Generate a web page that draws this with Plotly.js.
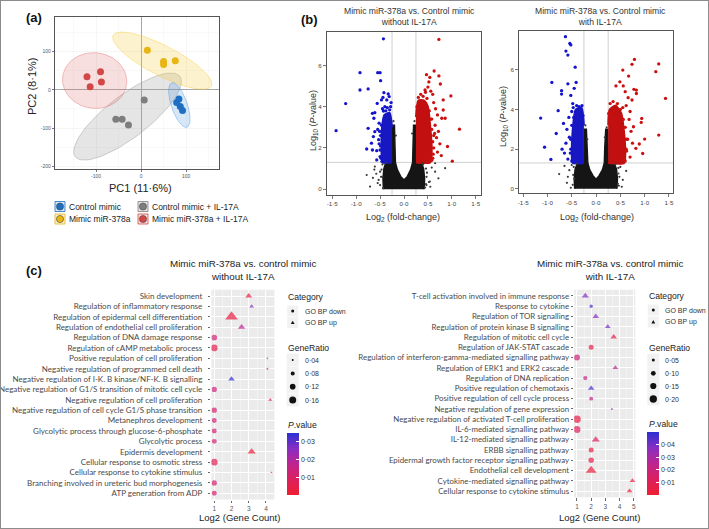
<!DOCTYPE html>
<html><head><meta charset="utf-8">
<script src="https://cdn.plot.ly/plotly-3.0.1.min.js"></script>
<style>html,body{margin:0;padding:0;background:#fff;}#chart{width:709px;height:529px;}</style>
</head><body><div id="chart"></div>
<script>
const W = 709, H = 529;
const px = x => x / W, py = y => 1 - y / H;
const SANS = 'Liberation Sans, Arial, sans-serif';
const HUM = 'Lato, Open Sans, sans-serif';

// ===== (a) PCA =====
const pcaGroups = ['Control mimic', 'Mimic miR-378a', 'Control mimic + IL-17A', 'Mimic miR-378a + IL-17A'];
const pcaColors = ['#1E6FC4', '#E8B514', '#7E7E7E', '#D24848'];
const pcaFills = ['rgba(70,150,225,0.22)', 'rgba(245,205,60,0.25)', 'rgba(150,150,150,0.25)', 'rgba(225,110,110,0.22)'];
const pc1Control = [84, 79, 87, 92];
const pc2Control = [-24, -33, -44, -54];
const pc1Mimic = [14, 50, 50, 76];
const pc2Mimic = [103, 74, 66, 76];
const pc1ControlIL = [7, -56, -42, -28];
const pc2ControlIL = [-27, -77, -77, -92];
const pc1MimicIL = [-120, -90, -88, -113];
const pc2MimicIL = [34, 47, 20, 8];
// confidence ellipses: centre and two conjugate semi-axis vectors (data units)
const ellCX = [85, 47, -30, -103];
const ellCY = [-40, 76, -70, 24];
const ellUX = [-17, 109, 116, 69];
const ellUY = [58, -66, 105, 16];
const ellVX = [16.7, -15, 28.5, 18];
const ellVY = [6.9, -35, -43.7, -71];

// ===== (b) volcano plots =====
const fcCut = 0.25, pCut = 1.301;
const volTicks = [-1.5, -1, -0.5, 0, 0.5, 1, 1.5];
const volTickText = ['-1·5', '-1·0', '-0·5', '0·0', '0·5', '1·0', '1·5'];
// left: without IL-17A
const vLBlueX = [-0.43,-0.92,-0.55,-0.50,-0.49,-0.92,-0.75,-1.22,-1.42,-0.42,-0.33,-0.31,-0.36,-0.47,-0.27,-0.56,-0.61,-0.75,-0.64,-0.78,-0.66,-0.57,-0.57,-0.50,-0.68,-0.43,-0.38,-0.66,-0.63,-0.61,-0.52,-0.55,-0.49,-0.53,
  -0.48,-0.50,-0.49,-0.47,-0.45,-0.40,-0.35,-0.30,-0.28,-0.52,-0.46,-0.51,-0.44];
const vLBlueY = [7.29,5.65,5.65,5.65,5.26,4.81,4.86,4.15,2.84,4.68,4.62,4.49,4.33,4.33,4.20,4.16,3.71,2.95,2.55,1.95,1.90,1.87,1.42,1.58,2.23,3.79,3.80,3.68,3.44,2.79,3.20,2.90,2.10,2.40,
  1.50,1.90,2.60,3.10,3.90,4.00,3.95,3.85,4.00,2.20,1.35,2.80,4.45];
const vLRedX = [0.73,0.63,0.47,0.54,0.73,0.76,0.52,0.44,0.98,0.82,0.82,0.86,0.79,1.16,0.91,1.01,0.78,0.50,0.56,0.60,0.62,0.66,0.70,0.65,0.72,0.68,0.75,0.62,0.70,0.60,0.58,0.64,
  0.58,0.61,0.60,0.58,0.56,0.53,0.48,0.40,0.35,0.30,0.27,0.45,0.62];
const vLRedY = [7.26,5.73,5.55,5.42,5.49,5.10,5.20,4.81,4.52,4.33,3.84,3.44,3.44,2.91,2.07,1.36,1.63,4.95,4.75,4.60,4.20,3.90,3.60,3.10,2.80,2.50,2.20,2.00,1.80,1.50,3.40,2.70,
  1.40,1.70,2.30,2.90,3.40,3.80,4.40,4.50,4.60,4.45,4.00,4.70,2.60];
const vLGreyX = [-0.78,-0.65,-0.71,0.65,0.65,0.86,0.72,0.54,-0.61,-0.55,0.48,-0.50,0.46,-0.45,0.58,-0.62,
  -0.50,-0.48,-0.47,-0.45,0.47,0.47,0.46,0.40,-0.17,0.17,-0.22,0.22,-0.53,0.52,-0.38,0.38,-0.58,0.55,-0.44,0.44];
const vLGreyY = [0.69,0.55,0.13,1.26,0.85,1.02,0.53,0.37,1.10,0.30,0.80,0.85,0.25,0.60,1.05,0.95,
  0.20,0.60,0.95,1.20,0.20,0.60,1.00,1.20,2.60,2.70,3.30,3.30,0.45,0.35,1.28,1.25,0.75,0.12,0.05,0.08];
const vLCoreBlackX = [-0.43,-0.44,-0.42,-0.38,-0.25,-0.25,-0.24,-0.20,-0.19,-0.18,-0.14,-0.07,0.00,0.07,0.14,0.18,0.19,0.20,0.24,0.25,0.25,0.36,0.41,0.43,0.42];
const vLCoreBlackY = [0.00,0.50,1.00,1.30,1.30,2.20,3.10,3.10,2.20,1.30,0.95,0.62,0.45,0.62,0.95,1.30,2.20,3.10,3.10,2.20,1.30,1.30,1.00,0.50,0.00];
const vLCoreBlueX = [-0.25,-0.45,-0.47,-0.46,-0.41,-0.30,-0.25];
const vLCoreBlueY = [1.30,1.30,2.00,3.00,3.60,3.70,3.00];
const vLCoreRedX = [0.25,0.55,0.58,0.55,0.50,0.42,0.30,0.25];
const vLCoreRedY = [1.30,1.30,2.00,3.00,4.00,4.30,4.30,3.50];
// right: with IL-17A
const vRBlueX = [-0.63,-0.54,-0.52,-0.62,-0.58,-0.43,-0.91,-0.58,-0.41,-0.71,-0.71,-0.45,-0.52,-0.78,-1.14,-0.82,-1.06,-0.93,-0.67,-0.60,-0.55,-0.62,-0.52,-0.65,-0.56,-0.48,-0.50,-0.58,-0.70,
  -0.50,-0.53,-0.52,-0.50,-0.46,-0.40,-0.35,-0.29,-0.27,-0.47];
const vRBlueY = [7.68,7.34,7.26,6.95,6.75,6.14,5.37,5.30,5.37,4.95,4.78,5.07,4.71,3.94,3.57,2.79,2.10,1.48,3.30,3.00,2.60,2.30,2.00,1.80,3.60,4.30,3.90,1.50,2.00,
  1.40,1.80,2.50,3.20,3.60,4.20,4.15,4.20,3.70,4.10];
const vRRedX = [0.79,0.74,0.55,0.67,1.29,1.23,1.43,1.29,0.49,0.56,0.41,0.78,0.83,0.83,0.74,0.94,0.93,1.00,0.89,0.82,0.96,0.77,0.60,0.66,0.62,0.70,0.68,0.72,0.65,0.75,0.62,0.70,0.58,
  0.60,0.63,0.62,0.60,0.56,0.50,0.44,0.35,0.29,0.26,0.55];
const vRRedY = [6.53,6.28,5.99,5.69,6.30,5.91,4.56,2.71,5.40,5.19,5.19,5.02,4.98,4.81,4.48,3.55,3.35,2.51,2.26,2.04,1.78,3.13,4.90,4.60,4.20,3.90,3.50,2.90,2.50,2.30,2.00,1.60,1.50,
  1.40,1.90,2.50,3.10,3.50,4.00,4.30,4.40,4.30,3.80,4.10];
const vRGreyX = [-0.76,-0.55,-0.45,0.46,-0.60,0.55,0.50,-0.65,0.62,-0.50,0.45,-0.58,
  -0.48,-0.47,-0.46,0.47,0.48,0.46,-0.18,0.18,-0.22,0.22,-0.40,0.40,-0.52,0.53];
const vRGreyY = [0.74,0.94,0.50,0.77,0.30,0.45,1.10,1.15,0.90,1.20,0.25,0.60,
  0.20,0.70,1.10,0.15,0.60,1.05,2.50,2.60,3.20,3.10,1.27,1.25,0.05,0.10];
const vRCoreBlackX = [-0.44,-0.45,-0.43,-0.38,-0.25,-0.25,-0.24,-0.20,-0.18,-0.17,-0.13,-0.06,0.00,0.06,0.13,0.17,0.18,0.20,0.24,0.25,0.25,0.37,0.42,0.44,0.43];
const vRCoreBlackY = [0.00,0.50,1.00,1.30,1.30,2.20,3.00,3.00,2.10,1.30,0.95,0.65,0.48,0.65,0.95,1.30,2.10,3.00,3.00,2.20,1.30,1.30,1.00,0.50,0.00];
const vRCoreBlueX = [-0.25,-0.48,-0.50,-0.48,-0.42,-0.30,-0.25];
const vRCoreBlueY = [1.30,1.30,2.00,3.00,4.00,4.10,3.20];
const vRCoreRedX = [0.25,0.58,0.60,0.57,0.52,0.40,0.28,0.25];
const vRCoreRedY = [1.30,1.30,2.00,3.00,3.80,4.20,4.00,3.20];

// ===== (c) GO dot plots =====
const dotLTerms = ['Skin development','Regulation of inflammatory response','Regulation of epidermal cell differentiation','Regulation of endothelial cell proliferation','Regulation of DNA damage response','Regulation of cAMP metabolic process','Positive regulation of cell proliferation','Negative regulation of programmed cell death','Negative regulation of I-K. B kinase/NF-K. B signalling','Negative regulation of G1/S transition of mitotic cell cycle','Negative regulation of cell proliferation','Negative regulation of cell cycle G1/S phase transition','Metanephros development','Glycolytic process through glucose-6-phosphate','Glycolytic process','Epidermis development','Cellular response to osmotic stress','Cellular response to cytokine stimulus','Branching involved in ureteric bud morphogenesis','ATP generation from ADP'];
const dotLCount = [8,9,4,6,2,2,17,17,4,2,19,2,2,2,2,9,2,20,2,2];
const dotLRatio = [0.108,0.072,0.246,0.118,0.121,0.151,0.035,0.040,0.102,0.110,0.058,0.110,0.102,0.102,0.102,0.133,0.151,0.038,0.110,0.102];
const dotLP = [0.003,0.026,0.004,0.018,0.013,0.006,0.020,0.015,0.034,0.014,0.005,0.012,0.013,0.013,0.013,0.003,0.007,0.008,0.012,0.012];
const dotLCat = ['up','up','up','up','down','down','down','down','up','down','up','down','down','down','down','up','down','up','down','down'];
const dotRTerms = ['T-cell activation involved in immune response','Response to cytokine','Regulation of TOR signalling','Regulation of protein kinase B signalling','Regulation of mitotic cell cycle','Regulation of JAK-STAT cascade','Regulation of interferon-gamma-mediated signalling pathway','Regulation of ERK1 and ERK2 cascade','Regulation of DNA replication','Positive regulation of chemotaxis','Positive regulation of cell cycle process','Negative regulation of gene expression','Negative regulation of activated T-cell proliferation','IL-6-mediated signalling pathway','IL-12-mediated signalling pathway','ERBB signalling pathway','Epidermal growth factor receptor signalling pathway','Endothelial cell development','Cytokine-mediated signalling pathway','Cellular response to cytokine stimulus'];
const dotRCount = [3,4,5,9,12,4,2,13,3,4,4,11,2,2,5,4,4,4,30,26];
const dotRRatio = [0.120,0.057,0.107,0.087,0.107,0.107,0.143,0.087,0.084,0.107,0.075,0.029,0.208,0.185,0.147,0.107,0.124,0.237,0.087,0.087];
const dotRP = [0.038,0.046,0.037,0.040,0.008,0.007,0.020,0.025,0.022,0.047,0.022,0.035,0.006,0.012,0.012,0.006,0.007,0.004,0.003,0.003];
const dotRCat = ['up','down','up','up','up','down','down','up','down','up','down','down','down','down','up','down','down','up','up','up'];
const legLRatioBreaks = [0.04, 0.08, 0.12, 0.16];
const legRRatioBreaks = [0.05, 0.10, 0.15, 0.20];
const legLPBreaks = [0.01, 0.02, 0.03];
const legRPBreaks = [0.01, 0.02, 0.03, 0.04];

const pScale = [[0,'#F01E30'],[0.25,'#DC1F5E'],[0.5,'#BE2590'],[0.75,'#882EC2'],[1,'#2A30D2']];
const dot = s => s.toFixed(2).replace('.', '·');

// ---------- traces ----------
const traces = [];
function ellipse(i) {
  const xs = [], ys = [];
  for (let k = 0; k <= 90; k++) {
    const t = 2 * Math.PI * k / 90;
    xs.push(ellCX[i] + ellUX[i] * Math.cos(t) + ellVX[i] * Math.sin(t));
    ys.push(ellCY[i] + ellUY[i] * Math.cos(t) + ellVY[i] * Math.sin(t));
  }
  return [xs, ys];
}
[2, 3, 1, 0].forEach(i => {
  const [xs, ys] = ellipse(i);
  traces.push({x: xs, y: ys, xaxis: 'x', yaxis: 'y', mode: 'lines', fill: 'toself',
    fillcolor: pcaFills[i], line: {color: pcaFills[i].replace(/0\.2\d\)/, '0.55)'), width: 0.8}, showlegend: false, hoverinfo: 'skip'});
});
const pcaX = [pc1Control, pc1Mimic, pc1ControlIL, pc1MimicIL];
const pcaY = [pc2Control, pc2Mimic, pc2ControlIL, pc2MimicIL];
pcaX.forEach((xs, i) => traces.push({x: xs, y: pcaY[i], xaxis: 'x', yaxis: 'y', mode: 'markers',
  marker: {size: 7, color: pcaColors[i]}, showlegend: false}));

function volTraces(ax, ay, coreBX, coreBY, coreBlX, coreBlY, coreRX, coreRY, gx, gy, bx, by, rx, ry) {
  const poly = (x, y, c, sm) => ({x, y, xaxis: ax, yaxis: ay, mode: 'lines', fill: 'toself', fillcolor: c,
    line: sm ? {color: c, width: 2, shape: 'spline', smoothing: 0.6} : {color: c, width: 1.5}, showlegend: false, hoverinfo: 'skip'});
  traces.push(poly(coreBX, coreBY, '#151515', false));
  traces.push(poly(coreBlX, coreBlY, '#1818C2', true));
  traces.push(poly(coreRX, coreRY, '#C21010', true));
  traces.push({x: gx, y: gy, xaxis: ax, yaxis: ay, mode: 'markers', marker: {size: 2.2, color: '#3A3A3A'}, showlegend: false});
  traces.push({x: bx, y: by, xaxis: ax, yaxis: ay, mode: 'markers', marker: {size: 3.3, color: '#1414CC'}, showlegend: false});
  traces.push({x: rx, y: ry, xaxis: ax, yaxis: ay, mode: 'markers', marker: {size: 3.3, color: '#CC1010'}, showlegend: false});
}
volTraces('x2', 'y2', vLCoreBlackX, vLCoreBlackY, vLCoreBlueX, vLCoreBlueY, vLCoreRedX, vLCoreRedY, vLGreyX, vLGreyY, vLBlueX, vLBlueY, vLRedX, vLRedY);
volTraces('x3', 'y3', vRCoreBlackX, vRCoreBlackY, vRCoreBlueX, vRCoreBlueY, vRCoreRedX, vRCoreRedY, vRGreyX, vRGreyY, vRBlueX, vRBlueY, vRRedX, vRRedY);

const sizeL = r => Math.max(1.5, -3 + 25 * Math.sqrt(r));
const sizeR = r => Math.max(1.5, -1.3 + 19.3 * Math.sqrt(r));
function dotTraces(terms, cnt, ratio, p, cat, ax, ay, cax, sizeFn) {
  ['down', 'up'].forEach(c => {
    const idx = terms.map((_, i) => i).filter(i => cat[i] === c);
    traces.push({
      x: idx.map(i => Math.log2(cnt[i])), y: idx.map(i => terms[i]), xaxis: ax, yaxis: ay, mode: 'markers',
      marker: {symbol: c === 'up' ? 'triangle-up' : 'circle', size: idx.map(i => sizeFn(ratio[i]) * (c === 'up' ? 1.17 : 1)),
        color: idx.map(i => p[i]), coloraxis: cax, line: {width: 0}},
      showlegend: false
    });
  });
}
dotTraces(dotLTerms, dotLCount, dotLRatio, dotLP, dotLCat, 'x4', 'y4', 'coloraxis', sizeL);
dotTraces(dotRTerms, dotRCount, dotRRatio, dotRP, dotRCat, 'x5', 'y5', 'coloraxis2', sizeR);

// ---------- layout ----------
const ann = (text, x, y, o = {}) => Object.assign({text, x: px(x), y: py(y), xref: 'paper', yref: 'paper', showarrow: false,
  xanchor: 'center', yanchor: 'middle', font: {family: SANS, size: 9, color: '#222'}}, o);
const annotations = [
  ann('<b>(a)</b>', 34, 18, {font: {family: SANS, size: 13, color: '#111'}}),
  ann('<b>(b)</b>', 309, 19, {font: {family: SANS, size: 13, color: '#111'}}),
  ann('<b>(c)</b>', 34, 270, {font: {family: SANS, size: 13, color: '#111'}}),
  ann('PC1 (11·6%)', 140, 188, {font: {family: SANS, size: 11, color: '#222'}}),
  ann('PC2 (8·1%)', 32, 87, {textangle: -90, font: {family: SANS, size: 11, color: '#222'}}),
  ann('Mimic miR-378a vs. Control mimic<br>without IL-17A', 409, 17, {font: {family: SANS, size: 8.6, color: '#333'}}),
  ann('Mimic miR-378a vs. Control mimic<br>with IL-17A', 600, 17, {font: {family: SANS, size: 8.6, color: '#333'}}),
  ann('Log<sub>2</sub> (fold-change)', 403, 218, {font: {family: SANS, size: 9, color: '#333'}}),
  ann('Log<sub>2</sub> (fold-change)', 597, 218, {font: {family: SANS, size: 9, color: '#333'}}),
  ann('Log<sub>10</sub> (<i>P</i>-value)', 314, 121, {textangle: -90, font: {family: SANS, size: 9, color: '#333'}}),
  ann('Log<sub>10</sub> (<i>P</i>-value)', 503, 117, {textangle: -90, font: {family: SANS, size: 9, color: '#333'}}),
  ann('Mimic miR-378a vs. control mimic<br>without IL-17A', 243, 270, {font: {family: SANS, size: 9.8, color: '#222'}}),
  ann('Mimic miR-378a vs. control mimic<br>with IL-17A', 610, 270, {font: {family: SANS, size: 9.8, color: '#222'}}),
  ann('Log2 (Gene Count)', 240, 517, {font: {family: SANS, size: 9.5, color: '#222'}}),
  ann('Log2 (Gene Count)', 599, 517, {font: {family: SANS, size: 9.5, color: '#222'}}),
];
// PCA legend
const shapes = [];
const legPos = [[60, 206.5], [60, 219], [143, 206.5], [143, 219]];
pcaGroups.forEach((g, i) => {
  const [cx, cy] = legPos[i];
  shapes.push({type: 'rect', xref: 'paper', yref: 'paper', x0: px(cx - 5), x1: px(cx + 5), y0: py(cy + 5), y1: py(cy - 5),
    fillcolor: pcaFills[i], line: {color: pcaColors[i], width: 0.8}});
  shapes.push({type: 'circle', xref: 'paper', yref: 'paper', x0: px(cx - 3.6), x1: px(cx + 3.6), y0: py(cy + 3.6), y1: py(cy - 3.6),
    fillcolor: pcaColors[i], line: {color: '#333', width: 0.5}});
  annotations.push(ann(g, cx + 7, cy, {xanchor: 'left', font: {family: SANS, size: 8.5, color: '#222'}}));
});
// volcano threshold lines
[['x2', 'y2'], ['x3', 'y3']].forEach(([xa, ya]) => {
  [-fcCut, fcCut].forEach(v => shapes.push({type: 'line', xref: xa, yref: ya + ' domain', x0: v, x1: v, y0: 0, y1: 1, line: {color: '#C4C4C4', width: 0.8}, layer: 'below'}));
  shapes.push({type: 'line', xref: xa + ' domain', yref: ya, x0: 0, x1: 1, y0: pCut, y1: pCut, line: {color: '#C4C4C4', width: 0.8}, layer: 'below'});
});
// dot-plot panel backgrounds
['4', '5'].forEach(n => shapes.push({type: 'rect', xref: 'x' + n + ' domain', yref: 'y' + n + ' domain', x0: 0, x1: 1, y0: 0, y1: 1, fillcolor: '#EBEBEB', line: {width: 0}, layer: 'below'}));
// dot-plot legends
function dotLegend(lx, keyX, catY, ratioY, ratioBreaks, sizeFn, pTitleY) {
  annotations.push(ann('Category', lx, catY[0] - 14, {xanchor: 'left', font: {family: SANS, size: 8.6, color: '#222'}}));
  ['GO BP down', 'GO BP up'].forEach((t, i) => {
    const cy = catY[i];
    shapes.push({type: 'rect', xref: 'paper', yref: 'paper', x0: px(keyX - 5.5), x1: px(keyX + 5.5), y0: py(cy + 5.5), y1: py(cy - 5.5), fillcolor: '#F2F2F2', line: {width: 0}});
    if (i === 0) shapes.push({type: 'circle', xref: 'paper', yref: 'paper', x0: px(keyX - 1.5), x1: px(keyX + 1.5), y0: py(cy + 1.5), y1: py(cy - 1.5), fillcolor: '#111', line: {width: 0}});
    else shapes.push({type: 'path', xref: 'paper', yref: 'paper', path: `M ${px(keyX)} ${py(cy - 2)} L ${px(keyX + 1.9)} ${py(cy + 1.4)} L ${px(keyX - 1.9)} ${py(cy + 1.4)} Z`, fillcolor: '#111', line: {width: 0}});
    annotations.push(ann(t, keyX + 10, cy, {xanchor: 'left', font: {family: SANS, size: 7, color: '#333'}}));
  });
  annotations.push(ann('GeneRatio', lx, ratioY[0] - 12.5, {xanchor: 'left', font: {family: SANS, size: 8.6, color: '#222'}}));
  ratioBreaks.forEach((r, i) => {
    const cy = ratioY[i], d = sizeFn(r) / 2;
    shapes.push({type: 'rect', xref: 'paper', yref: 'paper', x0: px(keyX - 6), x1: px(keyX + 6), y0: py(cy + 6.5), y1: py(cy - 6.5), fillcolor: '#F2F2F2', line: {width: 0}});
    shapes.push({type: 'circle', xref: 'paper', yref: 'paper', x0: px(keyX - d), x1: px(keyX + d), y0: py(cy + d), y1: py(cy - d), fillcolor: '#111', line: {width: 0}});
    annotations.push(ann(dot(r), keyX + 10, cy, {xanchor: 'left', font: {family: SANS, size: 7, color: '#333'}}));
  });
  annotations.push(ann('<i>P</i>.value', lx, pTitleY, {xanchor: 'left', font: {family: SANS, size: 8.6, color: '#222'}}));
}
dotLegend(286, 292.7, [311, 322.7], [360, 373.5, 386.7, 400], legLRatioBreaks, sizeL, 425);
dotLegend(647, 653.3, [310, 322], [360, 373.3, 386, 399], legRRatioBreaks, sizeR, 424);
// figure border
shapes.push({type: 'rect', xref: 'paper', yref: 'paper', x0: 0, x1: 1, y0: 0, y1: 1, line: {color: '#8C8C8C', width: 2}, fillcolor: 'rgba(0,0,0,0)'});

const tickF = (s, c) => ({family: SANS, size: s, color: c});
const volX = (d, a) => ({domain: d, anchor: a, tickvals: volTicks, ticktext: volTickText, ticks: 'outside', ticklen: 3, tickwidth: 0.8, tickcolor: '#555',
  showline: true, mirror: true, linecolor: '#555', linewidth: 1, showgrid: false, zeroline: false, tickfont: tickF(6.2, '#444')});
const volY = (d, a) => ({domain: d, anchor: a, tickvals: [0, 2, 4, 6], ticks: 'outside', ticklen: 3, tickwidth: 0.8, tickcolor: '#555',
  showline: true, mirror: true, linecolor: '#555', linewidth: 1, showgrid: false, zeroline: false, tickfont: tickF(6.2, '#444')});
const dotY = (d, a, terms, standoff, fs) => ({domain: d, anchor: a, type: 'category', categoryorder: 'array', categoryarray: terms, range: [19.6, -0.6],
  showgrid: true, gridcolor: '#FFFFFF', gridwidth: 1, ticks: 'outside', ticklen: 2.5, tickwidth: 0.8, tickcolor: '#444', zeroline: false,
  ticklabelstandoff: standoff, tickfont: {family: HUM, size: fs, color: '#4A4A4A'}});
const dotX = (d, a, rng, tv, minorv) => ({domain: d, anchor: a, range: rng, tickvals: tv, ticktext: tv.map(String), showgrid: true, gridcolor: '#FFFFFF', gridwidth: 1,
  minor: {tickvals: minorv, showgrid: true, gridcolor: '#F7F7F7', gridwidth: 0.6, ticks: ''},
  ticks: 'outside', ticklen: 2.5, tickwidth: 0.8, tickcolor: '#444', zeroline: false, tickfont: tickF(6.5, '#555')});

const x2 = volX([px(327), px(481)], 'y2'); x2.range = [-1.61, 1.61];
const x3 = volX([px(519.3), px(673.3)], 'y3'); x3.range = [-1.58, 1.59];
const y2 = volY([py(195), py(32)], 'x2'); y2.range = [-0.28, 7.62];
const y3 = volY([py(193.3), py(30.7)], 'x3'); y3.range = [-0.23, 7.98];

const cbar = (x, yc, len, breaks) => ({x: px(x), xanchor: 'left', xref: 'paper', y: py(yc), yanchor: 'middle', yref: 'paper', len: len, lenmode: 'pixels',
  thickness: 11.6, xpad: 0, ypad: 0, outlinewidth: 0, tickvals: breaks, ticktext: breaks.map(dot), ticks: 'inside', ticklen: 2.5, tickcolor: '#FFFFFF',
  tickfont: tickF(7, '#333')});

const layout = {
  width: W, height: H, margin: {l: 0, r: 0, t: 0, b: 0}, paper_bgcolor: '#FFFFFF', plot_bgcolor: 'rgba(0,0,0,0)', showlegend: false, hovermode: false,
  font: {family: SANS},
  xaxis: {domain: [px(55), px(219)], anchor: 'y', range: [-191, 173], tickvals: [-100, 0, 100], ticktext: ['-100', '0', '100'],
    showgrid: true, gridcolor: '#EEEEEE', gridwidth: 0.6, minor: {tickvals: [-150, -50, 50, 150], showgrid: true, gridcolor: '#F4F4F4', gridwidth: 0.5},
    zeroline: true, zerolinecolor: '#A8A8A8', zerolinewidth: 1, showline: true, mirror: true, linecolor: '#555', linewidth: 1.2,
    ticks: 'outside', ticklen: 2, tickcolor: '#777', tickfont: tickF(5, '#555')},
  yaxis: {domain: [py(169), py(17)], anchor: 'x', range: [-207, 190], tickvals: [-200, -100, 0, 100], ticktext: ['-200', '-100', '0', '100'],
    showgrid: true, gridcolor: '#EEEEEE', gridwidth: 0.6, minor: {tickvals: [-150, -50, 50, 150], showgrid: true, gridcolor: '#F4F4F4', gridwidth: 0.5},
    zeroline: true, zerolinecolor: '#A8A8A8', zerolinewidth: 1, showline: true, mirror: true, linecolor: '#555', linewidth: 1.2,
    ticks: 'outside', ticklen: 2, tickcolor: '#777', tickfont: tickF(5, '#555')},
  xaxis2: x2, yaxis2: y2, xaxis3: x3, yaxis3: y3,
  xaxis4: dotX([px(211.4), px(274.4)], 'y4', [0.834, 4.49], [1, 2, 3, 4], [1.5, 2.5, 3.5]),
  yaxis4: dotY([py(499.5), py(289.8)], 'x4', dotLTerms, 4, 8.0),
  xaxis5: dotX([px(574.2), px(635.3)], 'y5', [0.804, 5.107], [1, 2, 3, 4, 5], [1.5, 2.5, 3.5, 4.5]),
  yaxis5: dotY([py(497.2), py(289.8)], 'x5', dotRTerms, 0.5, 7.9),
  coloraxis: {cmin: 0.0005, cmax: 0.0346, colorscale: pScale, colorbar: cbar(286.7, 464, 62, legLPBreaks)},
  coloraxis2: {cmin: 0.0004, cmax: 0.0498, colorscale: pScale, colorbar: cbar(647.3, 463.4, 63.3, legRPBreaks)},
  annotations, shapes
};
Plotly.newPlot('chart', traces, layout, {staticPlot: true, displayModeBar: false});
</script></body></html>
